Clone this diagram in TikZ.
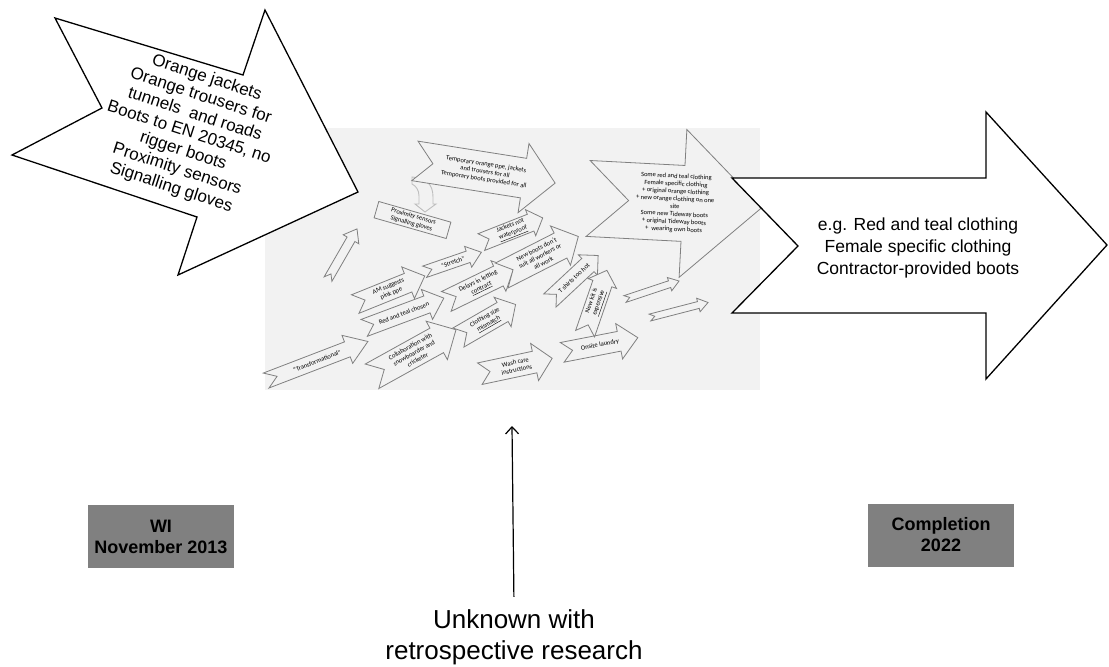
\documentclass[tikz,border=0pt]{standalone}
\usepackage{fontspec}
\setmainfont{Liberation Sans}
\newfontfamily\calibri{Carlito}
\usetikzlibrary{arrows.meta}

\definecolor{panelgrey}{RGB}{242,242,242}
\definecolor{linegrey}{RGB}{128,128,128}
\definecolor{boxgrey}{RGB}{128,128,128}
\definecolor{uturngrey}{RGB}{190,190,190}

\tikzset{
  bigarrow/.style={draw=black, line width=1.3pt, fill=white, line join=miter},
  smallarrow/.style={draw=linegrey, line width=0.8pt, fill=panelgrey, line join=miter},
  smalltext/.style={font=\calibri\fontsize{6.5}{7.6}\selectfont, align=center, inner sep=0pt, transform shape},
  datebox/.style={fill=boxgrey, font=\bfseries\fontsize{18}{21}\selectfont, align=center,
    minimum width=146pt, minimum height=63pt},
  pics/notched/.style n args={5}{code={
    \draw[smallarrow] (-#1/2,-#2) -- (#1/2-#4,-#2) -- (#1/2-#4,-#3) -- (#1/2,0)
      -- (#1/2-#4,#3) -- (#1/2-#4,#2) -- (-#1/2,#2) -- ({-#1/2+#2*#4/#3},0) -- cycle;
    \node[smalltext] (-label) {#5};
  }}
}

\begin{document}
\begin{tikzpicture}[x=1pt, y=-1pt]
  \useasboundingbox (0,0) rectangle (1109,667);

  % grey panel with the story in between
  \fill[panelgrey] (265,128) rectangle (760,390);

  \draw[draw=uturngrey, fill=panelgrey, line width=0.9pt]
    (412,177) .. controls (426,178) and (433,184) .. (433,197) -- (433,204) -- (436,204)
    -- (425,212) -- (415,204) -- (419,204) -- (419,196) .. controls (419,190) and (416,186) .. (412,184) -- cycle;

  \pic[rotate=21] (transf) at (317,361) {notched={109}{8}{15}{22}{“Transformational”}};
  \pic[rotate=60] (rise) at (342.5,254) {notched={58}{4.5}{9}{12}{}};
  \pic[rotate=22] (amsug) at (390,290) {notched={75}{10}{17}{18}{AM suggests\\pink ppe}};
  \pic[rotate=20.5] (redteal) at (404,313) {notched={85}{9}{16}{18}{Red and teal chosen}};
  \pic[rotate=19] (stretch) at (453,262) {notched={60}{6}{11}{14}{“Stretch”}};
  \pic[rotate=26] (delays) at (480,285) {notched={75}{11}{17}{17}{Delays in letting\\\underline{contract}}};
  \pic[rotate=29] (collab) at (414,353) {notched={96}{14}{22}{22}{Collaboration with\\snowboarder and\\cricketer}};
  \pic[rotate=30] (sizes) at (487,321) {notched={66}{11}{17}{15}{Clothing size\\\underline{mismatch}}};
  \pic[rotate=12] (wash) at (516,366) {notched={74}{11}{19}{18}{Wash care\\instructions}};
  \pic[rotate=11] (laundry) at (600,345) {notched={77}{10}{18}{19}{Onsite laundry}};
  \pic[rotate=21.5] (jackets) at (512,230) {notched={66}{9}{14}{13}{Jackets not\\\underline{waterproof}}};
  \pic[rotate=27] (newboots) at (540,256) {notched={86}{14}{22}{20}{New boots don’t\\suit all workers or\\all work}};
  \pic[rotate=43] (tshirts) at (574,278) {notched={66}{9}{14}{14}{T shirts too hot}};
  \pic[rotate=71] (newkit) at (596,302) {notched={67}{10}{15}{14}{New kit is\\\underline{expensive}}};
  \pic[rotate=18.4] (thinA) at (652,290) {notched={57}{3.5}{7}{10}{}};
  \pic[rotate=14.5] (thinB) at (679,310) {notched={60}{3.5}{7}{10}{}};
  \pic[rotate=-3] (mixed) at (675,203) {notched={174}{38}{74}{79}{Some red and teal clothing\\Female specific clothing\\+ original orange clothing\\+ new orange clothing on one\\site\\Some new Tideway boots\\+ original Tideway boots\\+~ wearing own boots}};
  \pic[rotate=-9] (temp) at (485,172) {notched={142}{20}{35}{32}{Temporary orange ppe, jackets\\and trousers for all\\Temporary boots provided for all}};

  \node[draw=linegrey, fill=panelgrey, line width=0.8pt, rotate=-16, minimum width=75pt, minimum height=17pt,
    inner sep=1pt, align=center, font=\calibri\fontsize{6.5}{7.6}\selectfont] (prox) at (412.5,220) {Proximity sensors\\Signalling gloves};

  % start and end
  \draw[bigarrow] (55,18) -- (243,75) -- (265,10) -- (358,192) -- (178,275) -- (197,217) -- (12,155) -- (102,108) -- cycle;
  \node[rotate=-18, align=center, font=\fontsize{17}{19.2}\selectfont] (before) at (189,133)
    {Orange jackets\\Orange trousers for\\tunnels~ and roads\\Boots to EN 20345, no\\rigger boots\\Proximity sensors\\Signalling gloves};

  \draw[bigarrow] (732,178) -- (986,178) -- (986,112) -- (1107,245) -- (986,379) -- (986,313) -- (732,313) -- (798,246) -- cycle;
  \node[align=center, font=\fontsize{17.5}{21.7}\selectfont] (after) at (918,248)
    {e.g. Red and teal clothing\\Female specific clothing\\Contractor-provided boots};

  \node[datebox] (wi) at (161,536.5) {WI\\November 2013};
  \node[datebox] (done) at (941,535) {Completion\\2022};

  \node[align=center, font=\fontsize{26}{31}\selectfont] (unknown) at (514,637) {Unknown with\\retrospective research};
  \coordinate (probe) at (512,426);
  \draw[-{Straight Barb[length=7pt,width=13pt]}, line width=1.2pt, shorten <=9pt] (unknown.north) -- (probe);
\end{tikzpicture}
\end{document}
